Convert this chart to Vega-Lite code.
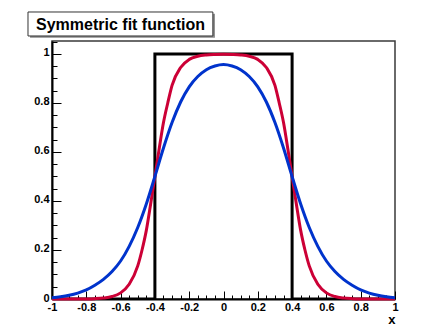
{
  "$schema": "https://vega.github.io/schema/vega-lite/v6.json",
  "width": 343,
  "height": 258,
  "autosize": {"type": "none"},
  "padding": {"left": 52, "top": 41, "right": 40, "bottom": 29},
  "background": "#ffffff",
  "config": {
    "view": {"stroke": "#3a3a3a", "strokeWidth": 1.5},
    "font": "Liberation Sans"
  },
  "datasets": {
    "curves": [
      {"s": "step", "i": 0, "x": -1, "y": 0},
      {"s": "step", "i": 1, "x": -0.4, "y": 0},
      {"s": "step", "i": 2, "x": -0.4, "y": 1},
      {"s": "step", "i": 3, "x": 0.4, "y": 1},
      {"s": "step", "i": 4, "x": 0.4, "y": 0},
      {"s": "step", "i": 5, "x": 1, "y": 0},
      {"s": "red", "x": -1, "y": 0},
      {"s": "red", "x": -0.95, "y": 0},
      {"s": "red", "x": -0.9, "y": 0.0001},
      {"s": "red", "x": -0.85, "y": 0.0002},
      {"s": "red", "x": -0.8, "y": 0.0005},
      {"s": "red", "x": -0.75, "y": 0.0015},
      {"s": "red", "x": -0.7, "y": 0.004},
      {"s": "red", "x": -0.65, "y": 0.01},
      {"s": "red", "x": -0.6, "y": 0.025},
      {"s": "red", "x": -0.55, "y": 0.06},
      {"s": "red", "x": -0.5, "y": 0.135},
      {"s": "red", "x": -0.475, "y": 0.2},
      {"s": "red", "x": -0.45, "y": 0.28},
      {"s": "red", "x": -0.425, "y": 0.387},
      {"s": "red", "x": -0.4, "y": 0.5},
      {"s": "red", "x": -0.375, "y": 0.613},
      {"s": "red", "x": -0.35, "y": 0.72},
      {"s": "red", "x": -0.325, "y": 0.8},
      {"s": "red", "x": -0.3, "y": 0.872},
      {"s": "red", "x": -0.25, "y": 0.945},
      {"s": "red", "x": -0.2, "y": 0.978},
      {"s": "red", "x": -0.15, "y": 0.991},
      {"s": "red", "x": -0.1, "y": 0.996},
      {"s": "red", "x": -0.05, "y": 0.998},
      {"s": "red", "x": 0, "y": 0.999},
      {"s": "red", "x": 0.05, "y": 0.998},
      {"s": "red", "x": 0.1, "y": 0.996},
      {"s": "red", "x": 0.15, "y": 0.991},
      {"s": "red", "x": 0.2, "y": 0.978},
      {"s": "red", "x": 0.25, "y": 0.945},
      {"s": "red", "x": 0.3, "y": 0.872},
      {"s": "red", "x": 0.325, "y": 0.8},
      {"s": "red", "x": 0.35, "y": 0.72},
      {"s": "red", "x": 0.375, "y": 0.613},
      {"s": "red", "x": 0.4, "y": 0.5},
      {"s": "red", "x": 0.425, "y": 0.387},
      {"s": "red", "x": 0.45, "y": 0.28},
      {"s": "red", "x": 0.475, "y": 0.2},
      {"s": "red", "x": 0.5, "y": 0.135},
      {"s": "red", "x": 0.55, "y": 0.06},
      {"s": "red", "x": 0.6, "y": 0.025},
      {"s": "red", "x": 0.65, "y": 0.01},
      {"s": "red", "x": 0.7, "y": 0.004},
      {"s": "red", "x": 0.75, "y": 0.0015},
      {"s": "red", "x": 0.8, "y": 0.0005},
      {"s": "red", "x": 0.85, "y": 0.0002},
      {"s": "red", "x": 0.9, "y": 0.0001},
      {"s": "red", "x": 0.95, "y": 0},
      {"s": "red", "x": 1, "y": 0},
      {"s": "blue", "x": -1, "y": 0.005},
      {"s": "blue", "x": -0.95, "y": 0.009},
      {"s": "blue", "x": -0.9, "y": 0.015},
      {"s": "blue", "x": -0.85, "y": 0.024},
      {"s": "blue", "x": -0.8, "y": 0.037},
      {"s": "blue", "x": -0.75, "y": 0.056},
      {"s": "blue", "x": -0.7, "y": 0.08},
      {"s": "blue", "x": -0.65, "y": 0.112},
      {"s": "blue", "x": -0.6, "y": 0.155},
      {"s": "blue", "x": -0.55, "y": 0.215},
      {"s": "blue", "x": -0.5, "y": 0.292},
      {"s": "blue", "x": -0.45, "y": 0.388},
      {"s": "blue", "x": -0.4, "y": 0.5},
      {"s": "blue", "x": -0.35, "y": 0.616},
      {"s": "blue", "x": -0.3, "y": 0.72},
      {"s": "blue", "x": -0.25, "y": 0.804},
      {"s": "blue", "x": -0.2, "y": 0.866},
      {"s": "blue", "x": -0.15, "y": 0.908},
      {"s": "blue", "x": -0.1, "y": 0.936},
      {"s": "blue", "x": -0.05, "y": 0.951},
      {"s": "blue", "x": 0, "y": 0.957},
      {"s": "blue", "x": 0.05, "y": 0.951},
      {"s": "blue", "x": 0.1, "y": 0.936},
      {"s": "blue", "x": 0.15, "y": 0.908},
      {"s": "blue", "x": 0.2, "y": 0.866},
      {"s": "blue", "x": 0.25, "y": 0.804},
      {"s": "blue", "x": 0.3, "y": 0.72},
      {"s": "blue", "x": 0.35, "y": 0.616},
      {"s": "blue", "x": 0.4, "y": 0.5},
      {"s": "blue", "x": 0.45, "y": 0.388},
      {"s": "blue", "x": 0.5, "y": 0.292},
      {"s": "blue", "x": 0.55, "y": 0.215},
      {"s": "blue", "x": 0.6, "y": 0.155},
      {"s": "blue", "x": 0.65, "y": 0.112},
      {"s": "blue", "x": 0.7, "y": 0.08},
      {"s": "blue", "x": 0.75, "y": 0.056},
      {"s": "blue", "x": 0.8, "y": 0.037},
      {"s": "blue", "x": 0.85, "y": 0.024},
      {"s": "blue", "x": 0.9, "y": 0.015},
      {"s": "blue", "x": 0.95, "y": 0.009},
      {"s": "blue", "x": 1, "y": 0.005}
    ],
    "one": [{"label": "Symmetric fit function"}]
  },
  "data": {"name": "curves"},
  "resolve": {"axis": {"x": "independent", "y": "independent"}},
  "layer": [
    {
      "transform": [{"filter": "datum.s === 'step'"}],
      "mark": {"type": "line", "color": "#000000", "strokeWidth": 3, "clip": true},
      "encoding": {
        "x": {"field": "x", "type": "quantitative",
              "scale": {"domain": [-1, 1], "nice": false, "zero": false},
              "axis": {"orient": "bottom", "values": [-1, -0.8, -0.6, -0.4, -0.2, 0, 0.2, 0.4, 0.6, 0.8, 1],
                       "format": "~g", "labelExpr": "replace(datum.label, '−', '-')",
                       "ticks": false, "grid": false,
                       "domainColor": "#000000", "domainWidth": 2,
                       "labelFont": "Liberation Sans", "labelFontWeight": "bold", "labelFontSize": 11,
                       "labelColor": "#000000", "labelPadding": 2, "labelFlush": false, "labelOverlap": false,
                       "title": "x", "titleAnchor": "end", "titleFont": "Liberation Sans",
                       "titleFontWeight": "bold", "titleFontSize": 13, "titleColor": "#000000", "titlePadding": 1}},
        "y": {"field": "y", "type": "quantitative",
              "scale": {"domain": [0, 1.053], "nice": false, "zero": false},
              "axis": {"orient": "left", "values": [0, 0.2, 0.4, 0.6, 0.8, 1],
                       "format": "~g", "ticks": false, "grid": false,
                       "domainColor": "#000000", "domainWidth": 2,
                       "labelFont": "Liberation Sans", "labelFontWeight": "bold", "labelFontSize": 11,
                       "labelColor": "#000000", "labelPadding": 3, "labelFlush": false, "labelOverlap": false,
                       "labelBaseline": "middle", "labelOffset": -1,
                       "title": null}},
        "order": {"field": "i", "type": "quantitative"}
      }
    },
    {
      "transform": [{"filter": "datum.s === 'red'"}],
      "mark": {"type": "line", "color": "#cc0036", "strokeWidth": 3, "interpolate": "monotone"},
      "encoding": {
        "x": {"field": "x", "type": "quantitative", "axis": null},
        "y": {"field": "y", "type": "quantitative", "axis": null}
      }
    },
    {
      "transform": [{"filter": "datum.s === 'blue'"}],
      "mark": {"type": "line", "color": "#0033cc", "strokeWidth": 3, "interpolate": "monotone"},
      "encoding": {
        "x": {"field": "x", "type": "quantitative", "axis": null},
        "y": {"field": "y", "type": "quantitative", "axis": null}
      }
    },
    {
      "mark": {"type": "point", "opacity": 0},
      "encoding": {
        "x": {"field": "x", "type": "quantitative",
              "axis": {"orient": "bottom", "values": [-1, -0.8, -0.6, -0.4, -0.2, 0, 0.2, 0.4, 0.6, 0.8, 1],
                       "labels": false, "domain": false, "grid": false, "title": null,
                       "tickSize": -8, "tickWidth": 1, "tickColor": "#000000"}},
        "y": {"field": "y", "type": "quantitative",
              "axis": {"orient": "left", "values": [0, 0.2, 0.4, 0.6, 0.8, 1],
                       "labels": false, "domain": false, "grid": false, "title": null,
                       "tickSize": -9, "tickWidth": 1, "tickColor": "#000000"}}
      }
    },
    {
      "mark": {"type": "point", "opacity": 0},
      "encoding": {
        "x": {"field": "x", "type": "quantitative",
              "axis": {"orient": "bottom", "values": [-0.95, -0.9, -0.85, -0.75, -0.7, -0.65, -0.55, -0.5, -0.45, -0.35, -0.3, -0.25, -0.15, -0.1, -0.05, 0.05, 0.1, 0.15, 0.25, 0.3, 0.35, 0.45, 0.5, 0.55, 0.65, 0.7, 0.75, 0.85, 0.9, 0.95],
                       "labels": false, "domain": false, "grid": false, "title": null,
                       "tickSize": -4, "tickWidth": 1, "tickColor": "#000000"}},
        "y": {"field": "y", "type": "quantitative",
              "axis": {"orient": "left", "values": [0.05, 0.1, 0.15, 0.25, 0.3, 0.35, 0.45, 0.5, 0.55, 0.65, 0.7, 0.75, 0.85, 0.9, 0.95, 1.05],
                       "labels": false, "domain": false, "grid": false, "title": null,
                       "tickSize": -5, "tickWidth": 1, "tickColor": "#000000"}}
      }
    },
    {
      "data": {"name": "one"},
      "mark": {"type": "rect", "color": "#8a8a8a"},
      "encoding": {
        "x": {"datum": -1.128, "type": "quantitative", "axis": null},
        "x2": {"datum": -0.05},
        "y": {"datum": 1.164, "type": "quantitative", "axis": null},
        "y2": {"datum": 1.066}
      }
    },
    {
      "data": {"name": "one"},
      "mark": {"type": "rect", "fill": "#ffffff", "stroke": "#333333", "strokeWidth": 1},
      "encoding": {
        "x": {"datum": -1.14, "type": "quantitative", "axis": null},
        "x2": {"datum": -0.062},
        "y": {"datum": 1.1714, "type": "quantitative", "axis": null},
        "y2": {"datum": 1.0735}
      }
    },
    {
      "data": {"name": "one"},
      "mark": {"type": "text", "font": "Liberation Sans",
               "fontWeight": "bold", "fontSize": 16, "color": "#000000", "align": "left", "baseline": "alphabetic"},
      "encoding": {
        "text": {"field": "label"},
        "x": {"datum": -1.093, "type": "quantitative", "axis": null},
        "y": {"datum": 1.098, "type": "quantitative", "axis": null}
      }
    }
  ]
}
